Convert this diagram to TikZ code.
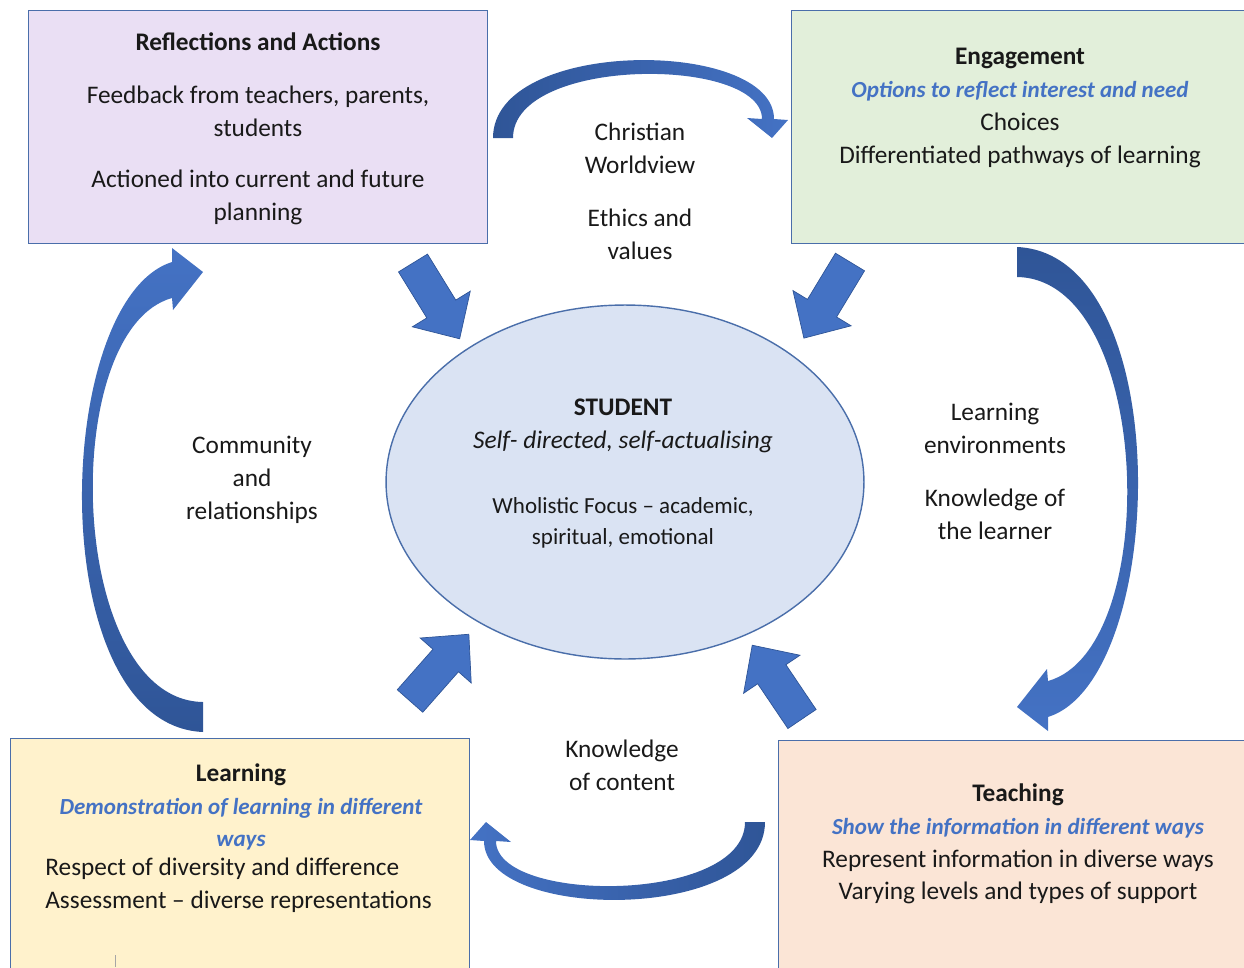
\documentclass[tikz,border=0pt]{standalone}
\usepackage{fontspec}
\setmainfont{Carlito}
\usepackage{tikz}
\usetikzlibrary{shapes.geometric}

\definecolor{reflfill}{RGB}{234,223,244}
\definecolor{engfill}{RGB}{226,239,218}
\definecolor{learnfill}{RGB}{255,242,204}
\definecolor{teachfill}{RGB}{251,229,214}
\definecolor{studfill}{RGB}{218,227,243}
\definecolor{edgeblue}{RGB}{74,110,170}
\definecolor{arrowblue}{RGB}{68,114,196}
\definecolor{arrowdark}{RGB}{47,85,151}
\definecolor{textblue}{RGB}{68,114,196}

\newcommand{\sub}[1]{{\fontsize{13.1}{18.7}\selectfont\color{textblue}\bfseries\itshape #1}}

\begin{document}
\begin{tikzpicture}[x=0.02cm, y=-0.02cm,
  every node/.style={font=\fontsize{14.4}{18.7}\selectfont, align=center, inner sep=0pt, text=black!90},
  box/.style={rectangle, draw=edgeblue, line width=0.8pt, anchor=north west},
  blockarrow/.style={fill=arrowblue, draw=arrowdark, line width=0.4pt}]
  \useasboundingbox (0,0) rectangle (1244,967);
  \clip (0,0) rectangle (1244,967);

  % four corner boxes
  \node[box, fill=reflfill, minimum width=9.18cm, minimum height=4.66cm] (refl) at (28,10) {};
  \node[box, fill=engfill, minimum width=9.3cm, minimum height=4.66cm] (eng) at (791,10) {};
  \node[box, fill=learnfill, minimum width=9.18cm, minimum height=4.9cm] (learn) at (10,738) {};
  \node[box, fill=teachfill, minimum width=9.5cm, minimum height=4.9cm] (teach) at (778,740) {};

  % the student in the middle
  \node[ellipse, draw=edgeblue, line width=0.8pt, fill=studfill,
        minimum width=9.56cm, minimum height=7.08cm] (student) at (625,482) {};

  % curved arrows round the cycle
  \shade[left color=arrowdark, right color=arrowblue]
    (493,138) .. controls (493,37) and (774,38) .. (774,119) -- (788,120) -- (772,138)
    -- (747,118) -- (762,119) .. controls (762,56) and (513,56) .. (513,138) -- cycle;
  \shade[top color=arrowdark, bottom color=arrowblue]
    (1017,247) .. controls (1178,254) and (1168,679) .. (1048,717) -- (1048,731) -- (1017,707)
    -- (1047,669) -- (1048,681) .. controls (1163,649) and (1153,279) .. (1017,277) -- cycle;
  \shade[left color=arrowblue, right color=arrowdark]
    (765,822) .. controls (765,923) and (484,922) .. (484,841) -- (470,840) -- (486,822)
    -- (511,842) -- (496,841) .. controls (496,904) and (745,904) .. (745,822) -- cycle;
  \shade[top color=arrowblue, bottom color=arrowdark]
    (203,732) .. controls (42,725) and (52,300) .. (172,262) -- (172,248) -- (203,272)
    -- (173,310) -- (172,298) .. controls (57,330) and (67,700) .. (203,702) -- cycle;

  % block arrows pointing at the student
  \foreach \x/\y/\a in {413/263/-58.4, 850/262/-121.2, 410/701/48.6, 802/719/124}
    \draw[blockarrow, shift={(\x,\y)}, rotate=\a]
      (0,-17) -- (54,-17) -- (54,-34) -- (89,0) -- (54,34) -- (54,17) -- (0,17) -- cycle;

  % box texts
  \node (refltitle) at (258,42) {\bfseries Reflections and Actions};
  \node (reflfb) at (258,111) {Feedback from teachers, parents,\\students};
  \node (reflact) at (258,197) {Actioned into current and future\\planning};

  \node (engtext) at (1020,108) {\textbf{Engagement}\\
    \sub{Options to reflect interest and need}\\
    Choices\\Differentiated pathways of learning};

  \node (learntext) at (241,807) {\textbf{Learning}\\
    \sub{Demonstration of learning in different}\\
    \sub{ways}};
  \node[anchor=west, align=left] (learnlist) at (45,885)
    {Respect of diversity and difference\\Assessment -- diverse representations};

  \node (teachtext) at (1018,844) {\textbf{Teaching}\\
    \sub{Show the information in different ways}\\
    Represent information in diverse ways\\Varying levels and types of support};

  \node (studtitle) at (623,426) {\textbf{STUDENT}\\\textit{Self- directed, self-actualising}};
  \node[font=\fontsize{13.1}{17.3}\selectfont] (studfocus) at (623,523)
    {Wholistic Focus -- academic,\\spiritual, emotional};

  % labels between the boxes
  \node (worldview) at (640,148) {Christian\\Worldview};
  \node (ethics) at (640,234) {Ethics and\\values};
  \node (community) at (252,480) {Community\\and\\relationships};
  \node (environ) at (995,428) {Learning\\environments};
  \node (learner) at (995,514) {Knowledge of\\the learner};
  \node (content) at (622,765) {Knowledge\\of content};

  \draw[gray!70] (115,955) -- (115,967);
\end{tikzpicture}
\end{document}
